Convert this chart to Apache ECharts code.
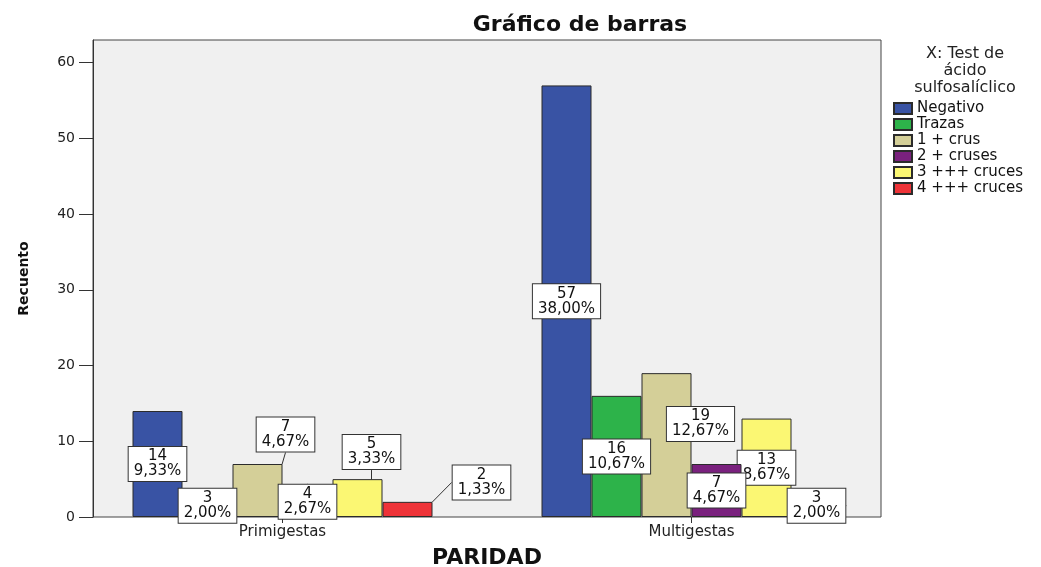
<!DOCTYPE html>
<html>
<head>
<meta charset="utf-8">
<script src="https://cdn.jsdelivr.net/npm/echarts@6/dist/echarts.min.js"></script>
<style>
  html, body { margin: 0; padding: 0; background: #fff; }
  #chart { width: 1041px; height: 567px; }
</style>
</head>
<body>
<div id="chart"></div>
<script>
// categorías del eje X
const paridad = ['Primigestas', 'Multigestas']
// niveles del test (leyenda)
const niveles = ['Negativo', 'Trazas', '1 + crus', '2 + cruses', '3 +++ cruces', '4 +++ cruces']
// recuentos por nivel: [Primigestas, Multigestas]
const negativo = [14, 57]
const trazas = [3, 16]
const unaCruz = [7, 19]
const dosCruces = [4, 7]
const tresCruces = [5, 13]
const cuatroCruces = [2, 3]
const yTicks = [0, 10, 20, 30, 40, 50, 60]

const valores = [negativo, trazas, unaCruz, dosCruces, tresCruces, cuatroCruces]
const total = valores.flat().reduce((a, b) => a + b, 0)

const colores = ['#3953a4', '#2db34a', '#d4cf98', '#7a217e', '#fbf773', '#ee3338']
const font = 'DejaVu Sans'
// etiquetas desplazadas (serie-dato): dx, dy desde el centro de la barra
const labelShift = { '2-0': [28, -56], '4-0': [14, -46], '5-0': [74, -27], '2-1': [34, -21] }

const chart = echarts.init(document.getElementById('chart'))

const option = {
  animation: false,
  graphic: [
    {
      type: 'text',
      x: 580,
      y: 14,
      style: { text: 'Gráfico de barras', textAlign: 'center', font: 'bold 22px "DejaVu Sans"', fill: '#111' }
    },
    {
      type: 'text',
      x: 965,
      y: 45,
      style: {
        text: 'X: Test de\nácido\nsulfosalíclico',
        textAlign: 'center',
        font: '16px "DejaVu Sans"',
        lineHeight: 17,
        fill: '#222'
      }
    }
  ],
  legend: {
    data: niveles,
    orient: 'vertical',
    left: 893,
    top: 101,
    padding: 0,
    itemWidth: 18,
    itemHeight: 11,
    itemGap: 1,
    icon: 'rect',
    selectedMode: false,
    textStyle: { fontFamily: font, fontSize: 15, lineHeight: 15, color: '#111' }
  },
  grid: [
    {
      left: 93, right: 160, top: 40, bottom: 50, outerBoundsMode: 'none',
      show: true, backgroundColor: '#f0f0f0', borderColor: '#444', borderWidth: 1
    },
    { left: 78, right: 145, top: 40, bottom: 50, outerBoundsMode: 'none' }
  ],
  xAxis: [
    { gridIndex: 0, type: 'value', min: 0, max: 1, show: false },
    {
      gridIndex: 1,
      type: 'category',
      data: paridad,
      name: 'PARIDAD',
      nameLocation: 'middle',
      nameGap: 30,
      nameTextStyle: { fontFamily: font, fontWeight: 'bold', fontSize: 22, color: '#111' },
      axisLine: { show: false },
      axisTick: { show: true, alignWithLabel: true, length: 6, lineStyle: { color: '#333' } },
      axisLabel: { margin: 8, fontFamily: font, fontSize: 15, color: '#222' }
    }
  ],
  yAxis: [
    {
      gridIndex: 0,
      type: 'value',
      min: 0,
      max: 63,
      name: 'Recuento',
      nameLocation: 'middle',
      nameGap: 62,
      nameTextStyle: { fontFamily: font, fontWeight: 'bold', fontSize: 14, color: '#111' },
      axisLine: { show: true, lineStyle: { color: '#333' } },
      axisTick: { show: true, inside: false, length: 14, customValues: yTicks, lineStyle: { color: '#333' } },
      axisLabel: { customValues: yTicks, margin: 18, fontFamily: font, fontSize: 14, color: '#222' },
      splitLine: { show: false }
    },
    { gridIndex: 1, type: 'value', min: 0, max: 63, show: false }
  ],
  series: niveles.map((name, i) => ({
    name,
    type: 'bar',
    xAxisIndex: 1,
    yAxisIndex: 1,
    data: valores[i],
    barWidth: 50,
    barGap: '0%',
    z: i === 3 ? 3 : 2,
    itemStyle: { color: colores[i], borderColor: '#2b2b2b', borderWidth: 1 },
    label: {
      show: true,
      position: 'inside',
      formatter: p => p.value + '\n' + (p.value / total * 100).toFixed(2).replace('.', ',') + '%',
      fontFamily: font,
      fontSize: 15,
      lineHeight: 15,
      color: '#111',
      backgroundColor: '#fff',
      borderColor: '#333',
      borderWidth: 1,
      padding: [2, 5]
    },
    labelLine: { show: true, lineStyle: { color: '#333', width: 1 } },
    labelLayout: p => {
      const s = labelShift[i + '-' + p.dataIndex]
      return s ? { dx: s[0], dy: s[1] } : {}
    }
  }))
}

chart.setOption(option)
</script>
</body>
</html>
